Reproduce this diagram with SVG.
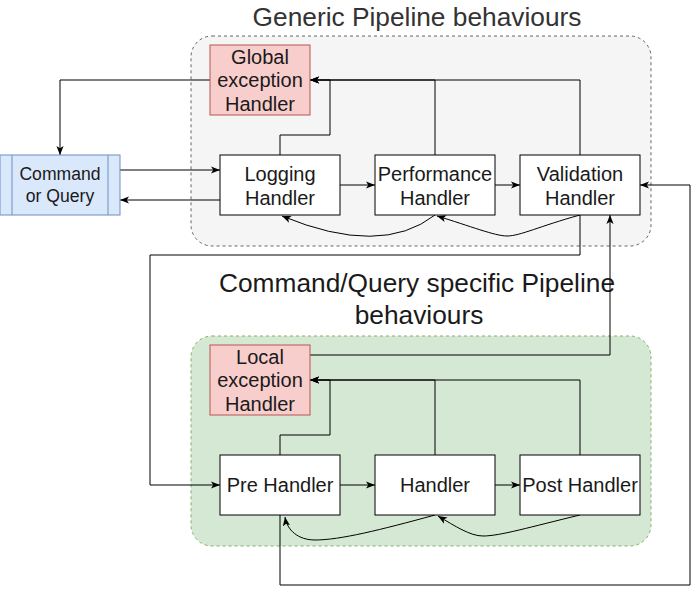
<svg xmlns="http://www.w3.org/2000/svg" width="699" height="594" viewBox="0 0 699 594">
<style>
text{font-family:"Liberation Sans",Arial,Helvetica,sans-serif;fill:#1a1a1a;text-anchor:middle}
.n{font-size:20px}
.t{font-size:26.3px}
.c{stroke:#000;stroke-width:1;fill:none}
.box{fill:#fff;stroke:#000;stroke-width:1}
.red{fill:#f8cecc;stroke:#b85450;stroke-width:1}
</style>
<defs>
<marker id="a" viewBox="0 0 10 10" refX="10" refY="5" markerWidth="9" markerHeight="9" markerUnits="userSpaceOnUse" orient="auto">
<path d="M0,1 L10,5 L0,9 L2.5,5 z" fill="#000"/>
</marker>
</defs>
<g id="generic-group">
<rect x="191" y="36" width="460" height="210" rx="21" fill="#f5f5f5" stroke="#666" stroke-dasharray="3 3"/>
<text class="t" x="417" y="26" style="fill:#333">Generic Pipeline behaviours</text>
</g>
<g id="specific-group">
<rect x="191" y="336" width="460" height="210" rx="21" fill="#d5e8d4" stroke="#82b366" stroke-dasharray="3 3"/>
<text class="t" x="417" y="292">Command/Query specific Pipeline</text>
<text class="t" x="419" y="324">behaviours</text>
</g>
<g id="connectors">
<path class="c" d="M210,80 H60 V155" marker-end="url(#a)"/>
<path class="c" d="M120,170 H220" marker-end="url(#a)"/>
<path class="c" d="M220,200 H120" marker-end="url(#a)"/>
<path class="c" d="M340,185 H375" marker-end="url(#a)"/>
<path class="c" d="M495,185 H520" marker-end="url(#a)"/>
<path class="c" d="M280,155 V135 H330 V80 H310" marker-end="url(#a)"/>
<path class="c" d="M435,155 V80 H310" marker-end="url(#a)"/>
<path class="c" d="M580,155 V80 H310" marker-end="url(#a)"/>
<path class="c" d="M580,215 C540,226 520,236 507,236 C495,236 470,226 437,216" marker-end="url(#a)"/>
<path class="c" d="M435,215 Q381,257 282,216" marker-end="url(#a)"/>
<path class="c" d="M580,215 V255 H150 V485 H220" marker-end="url(#a)"/>
<path class="c" d="M310,355 H610 V215" marker-end="url(#a)"/>
<path class="c" d="M280,455 V435 H330 V380 H310" marker-end="url(#a)"/>
<path class="c" d="M435,455 V380 H310" marker-end="url(#a)"/>
<path class="c" d="M580,455 V380 H310" marker-end="url(#a)"/>
<path class="c" d="M340,485 H375" marker-end="url(#a)"/>
<path class="c" d="M495,485 H520" marker-end="url(#a)"/>
<path class="c" d="M580,515 C530,527 500,536 483,536 C470,536 455,526 438,516" marker-end="url(#a)"/>
<path class="c" d="M435,515 C380,530 340,540 315,540 C298,540 287,530 285,517" marker-end="url(#a)"/>
<path class="c" d="M280,515 V585 H690 V185 H640" marker-end="url(#a)"/>
</g>
<g id="command-or-query">
<rect x="0" y="155" width="120" height="60" fill="#dae8fc" stroke="#6c8ebf"/>
<path d="M12,155 V215 M108,155 V215" stroke="#6c8ebf" fill="none"/>
<text x="60" y="179.5" style="font-size:17.6px">Command</text>
<text x="60" y="201.5" style="font-size:17.6px">or Query</text>
</g>
<g id="global-exception-handler">
<rect class="red" x="210" y="45" width="100" height="70"/>
<text class="n" x="260" y="63.5">Global</text>
<text class="n" x="260" y="87">exception</text>
<text class="n" x="260" y="110.5">Handler</text>
</g>
<g id="logging-handler">
<rect class="box" x="220" y="155" width="120" height="60"/>
<text class="n" x="280" y="181">Logging</text>
<text class="n" x="280" y="204.5">Handler</text>
</g>
<g id="performance-handler">
<rect class="box" x="375" y="155" width="120" height="60"/>
<text class="n" x="435" y="181">Performance</text>
<text class="n" x="435" y="204.5">Handler</text>
</g>
<g id="validation-handler">
<rect class="box" x="520" y="155" width="120" height="60"/>
<text class="n" x="580" y="181">Validation</text>
<text class="n" x="580" y="204.5">Handler</text>
</g>
<g id="local-exception-handler">
<rect class="red" x="210" y="345" width="100" height="70"/>
<text class="n" x="260" y="363.5">Local</text>
<text class="n" x="260" y="387">exception</text>
<text class="n" x="260" y="410.5">Handler</text>
</g>
<g id="pre-handler">
<rect class="box" x="220" y="455" width="120" height="60"/>
<text class="n" x="280" y="492">Pre Handler</text>
</g>
<g id="handler">
<rect class="box" x="375" y="455" width="120" height="60"/>
<text class="n" x="435" y="492">Handler</text>
</g>
<g id="post-handler">
<rect class="box" x="520" y="455" width="120" height="60"/>
<text class="n" x="580" y="492">Post Handler</text>
</g>
</svg>
